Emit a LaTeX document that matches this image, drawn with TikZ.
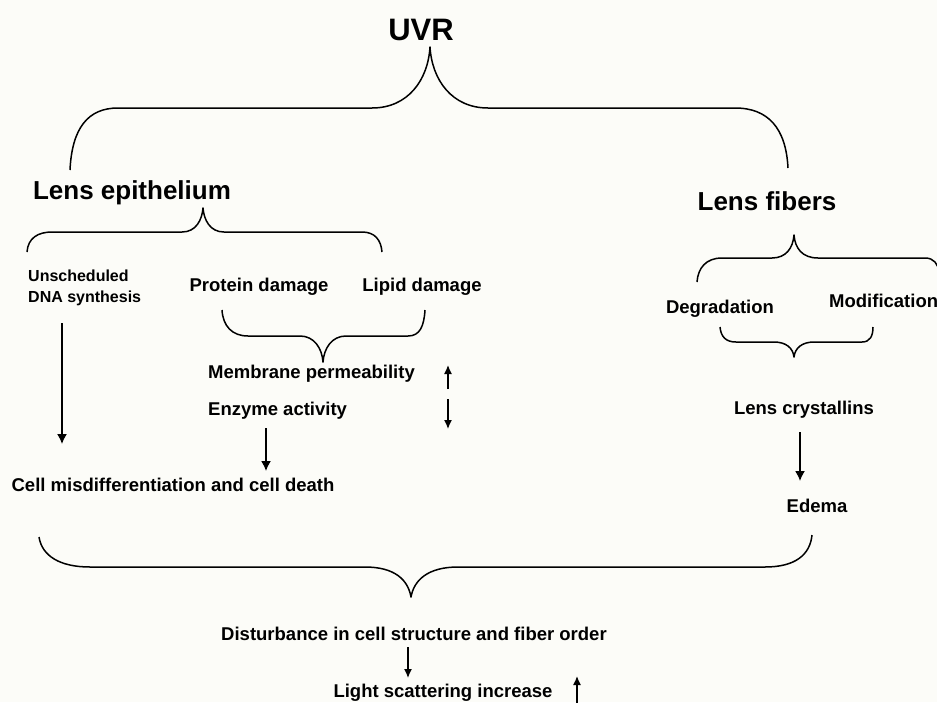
\documentclass[tikz,border=0pt]{standalone}
\usepackage{fontspec}
\setmainfont{Liberation Sans}
\usetikzlibrary{arrows.meta}
\definecolor{bgc}{RGB}{252,252,248}
\tikzset{
  lbl/.style={inner sep=0pt, font=\bfseries\fontsize{18.5}{22}\selectfont},
  big/.style={inner sep=0pt, font=\bfseries\fontsize{26}{30}\selectfont},
  brace/.style={line width=1.5pt, line join=round},
  arr/.style={line width=1.5pt, -{Latex[length=10pt,width=10pt]}},
  sarr/.style={line width=1.4pt, -{Latex[length=9pt,width=8pt]}},
}
\begin{document}
\begin{tikzpicture}[x=1pt,y=-1pt]
\fill[bgc] (0,0) rectangle (937,702);
\useasboundingbox (0,0) rectangle (937,702);

% texts
\node[inner sep=0pt, font=\bfseries\fontsize{31}{34}\selectfont] (uvr) at (421,30) {UVR};
\node[big] (epi) at (132,193) {Lens epithelium};
\node[big] (fib) at (767,201) {Lens fibers};
\node[inner sep=0pt, anchor=north west, align=left, font=\bfseries\fontsize{16}{21}\selectfont] (uds) at (28,270) {Unscheduled\\DNA synthesis};
\node[lbl] (prot) at (259,287) {Protein damage};
\node[lbl] (lip) at (422,287) {Lipid damage};
\node[lbl, anchor=west] (mem) at (208,374) {Membrane permeability};
\node[lbl, anchor=west] (enz) at (208,411) {Enzyme activity};
\node[lbl] (cell) at (173,485) {Cell misdifferentiation and cell death};
\node[lbl] (deg) at (720,309) {Degradation};
\node[lbl, anchor=west] (mod) at (829,301) {Modification};
\node[lbl] (cry) at (804,410) {Lens crystallins};
\node[lbl] (ede) at (817,506) {Edema};
\node[lbl] (dist) at (414,634) {Disturbance in cell structure and fiber order};
\node[lbl] (light) at (443,693) {Light scattering increase};

% braces
\draw[brace] (70,170) .. controls (72,128) and (88,108) .. (118,108) -- (372,108)
  .. controls (408,108) and (428,80) .. (430,47)
  .. controls (432,80) and (452,108) .. (488,108) -- (735,108)
  .. controls (768,108) and (786,128) .. (788,168);
\draw[brace] (27,252) .. controls (28,238) and (38,232) .. (52,232) -- (182,232)
  .. controls (196,232) and (202,220) .. (203,208)
  .. controls (204,220) and (210,232) .. (224,232) -- (362,232)
  .. controls (375,232) and (381,240) .. (382,252);
\draw[brace] (222,310) .. controls (223,326) and (232,336) .. (248,336) -- (300,336)
  .. controls (314,336) and (322,348) .. (323,362)
  .. controls (324,348) and (332,336) .. (346,336) -- (408,336)
  .. controls (420,336) and (424,326) .. (425,310);
\draw[brace] (697,282) .. controls (698,268) and (706,258) .. (722,258) -- (772,258)
  .. controls (786,258) and (793,248) .. (794,235)
  .. controls (795,248) and (802,258) .. (818,258) -- (925,258)
  .. controls (934,258) and (938,264) .. (939,272);
\draw[brace] (720,327) .. controls (721,337) and (726,342) .. (736,342) -- (774,342)
  .. controls (786,342) and (793,348) .. (794,357)
  .. controls (795,348) and (802,342) .. (814,342) -- (862,342)
  .. controls (870,342) and (873,336) .. (873,327);
\draw[brace] (39,537) .. controls (42,556) and (60,567) .. (90,567) -- (365,567)
  .. controls (395,567) and (408,580) .. (411,597)
  .. controls (414,580) and (428,567) .. (458,567) -- (765,567)
  .. controls (795,567) and (810,555) .. (812,535);

% arrows
\coordinate (a1s) at (62,323); \coordinate (a1e) at (62,444);
\draw[arr] (a1s) -- (a1e);
\coordinate (a2s) at (266,428); \coordinate (a2e) at (266,471);
\draw[arr] (a2s) -- (a2e);
\coordinate (upS) at (448,389); \coordinate (upE) at (448,365);
\draw[sarr] (upS) -- (upE);
\coordinate (dnS) at (448,399); \coordinate (dnE) at (448,429);
\draw[sarr] (dnS) -- (dnE);
\coordinate (a3s) at (800,432); \coordinate (a3e) at (800,481);
\draw[arr] (a3s) -- (a3e);
\coordinate (a4s) at (408,647); \coordinate (a4e) at (408,678);
\draw[sarr] (a4s) -- (a4e);
\coordinate (upB) at (577,704); \coordinate (upBe) at (577,676);
\draw[sarr] (upB) -- (upBe);
\end{tikzpicture}
\end{document}
